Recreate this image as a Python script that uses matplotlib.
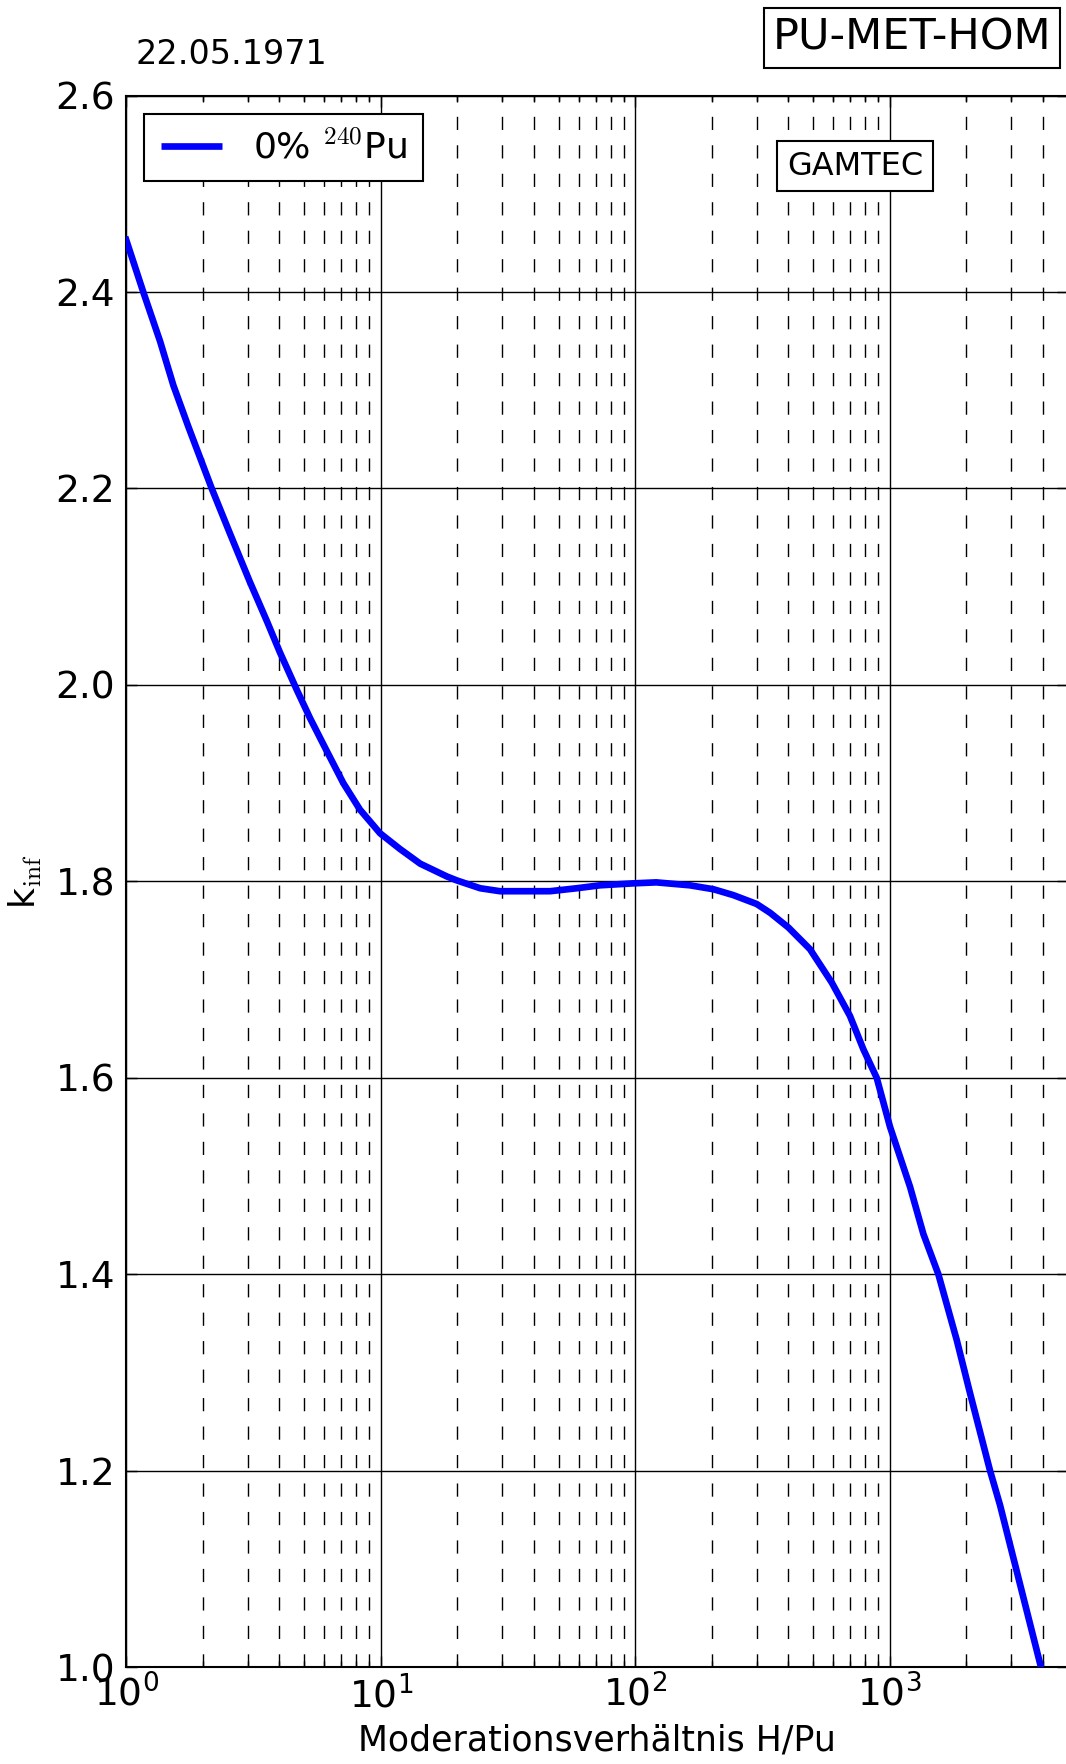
import matplotlib
matplotlib.use("Agg")
import matplotlib.pyplot as plt
from matplotlib.ticker import LogLocator, FixedLocator, FormatStrFormatter, NullFormatter

plt.rcParams['font.family'] = ['DejaVu Sans']
plt.rcParams['mathtext.fontset'] = 'cm'

# data: moderation ratio H/Pu vs k_inf
hpu = [1.0, 1.167, 1.358, 1.532, 1.754, 2.168, 2.558, 3.06, 3.57, 4.02, 4.68, 5.28,
       6.13, 7.13, 8.29, 9.94, 11.9, 14.3, 18.2, 19.9, 24.6, 29.4, 46.3, 58.9, 72.7,
       98.4, 121, 164, 203, 243, 300, 339, 400, 486, 592, 698, 788, 889, 1003, 1202,
       1356, 1553, 1834, 2068, 2479, 2713, 3930]
kinf = [2.453, 2.400, 2.350, 2.305, 2.263, 2.200, 2.154, 2.105, 2.065, 2.033, 1.995, 1.966,
        1.933, 1.900, 1.873, 1.849, 1.833, 1.818, 1.805, 1.801, 1.793, 1.790, 1.790, 1.793, 1.796,
        1.798, 1.799, 1.796, 1.792, 1.786, 1.777, 1.768, 1.753, 1.731, 1.697, 1.663, 1.629, 1.600, 1.550, 1.489,
        1.441, 1.400, 1.333, 1.279, 1.200, 1.165, 1.000]
series_label = r"0% $^{240}$Pu"
yticks = [1.0, 1.2, 1.4, 1.6, 1.8, 2.0, 2.2, 2.4, 2.6]

fig = plt.figure(figsize=(10.66, 17.64), dpi=100)
ax = fig.add_axes([0.1184, 0.0549, 1.0015 - 0.1184, 0.9458 - 0.0549])

ax.plot(hpu, kinf, color='#0000ff', lw=4.8, label=series_label, zorder=3)
ax.set_xscale('log')
ax.set_xlim(1, 5000)
ax.set_ylim(1.0, 2.6)
ax.yaxis.set_major_locator(FixedLocator(yticks))
ax.yaxis.set_major_formatter(FormatStrFormatter('%.1f'))
ax.xaxis.set_major_locator(LogLocator(base=10, numticks=10))
ax.xaxis.set_minor_locator(LogLocator(base=10, subs=range(2, 10), numticks=20))
ax.xaxis.set_minor_formatter(NullFormatter())

ax.grid(True, which='major', axis='both', color='black', lw=1.0, ls='-')
ax.grid(True, which='minor', axis='x', color='black', lw=1.0, ls=(0, (9.5, 11)))

ax.tick_params(which='both', direction='in', top=True, right=True)
ax.tick_params(which='major', length=8, width=1, labelsize=27)
ax.tick_params(which='minor', length=4, width=1)
ax.tick_params(axis='x', pad=6)
ax.tick_params(axis='y', pad=8)
for s in ax.spines.values():
    s.set_linewidth(1.5)

ax.set_xlabel("Moderationsverhältnis H/Pu", fontsize=25, labelpad=6)
ax.set_ylabel(r"k$_{\rm inf}$", fontsize=26, labelpad=8)

leg = ax.legend(loc='upper left', fontsize=26, fancybox=False, framealpha=1,
                edgecolor='black', handlelength=1.7, handletextpad=0.85,
                borderaxespad=0.5, borderpad=0.45)
leg.get_frame().set_linewidth(1.5)
for h in leg.get_lines():
    h.set_solid_capstyle('butt')

ax.text(855 / (1066 * (1.0015 - 0.1184)) - 0.1184 / (1.0015 - 0.1184), 1 - (166 - 95.6) / (1667 - 95.6),
        "GAMTEC", transform=ax.transAxes, fontsize=23, ha='center', va='center',
        bbox=dict(boxstyle='square,pad=0.3', fc='white', ec='black', lw=1.5), zorder=4)

fig.text(135 / 1066, 1 - 55 / 1764, "22.05.1971", fontsize=24, ha='left', va='center')
fig.text(912 / 1066, 1 - 38 / 1764, "PU-MET-HOM", fontsize=31, ha='center', va='center',
         bbox=dict(boxstyle='square,pad=0.2', fc='white', ec='black', lw=1.5))

fig.savefig("out.png", dpi=100)
